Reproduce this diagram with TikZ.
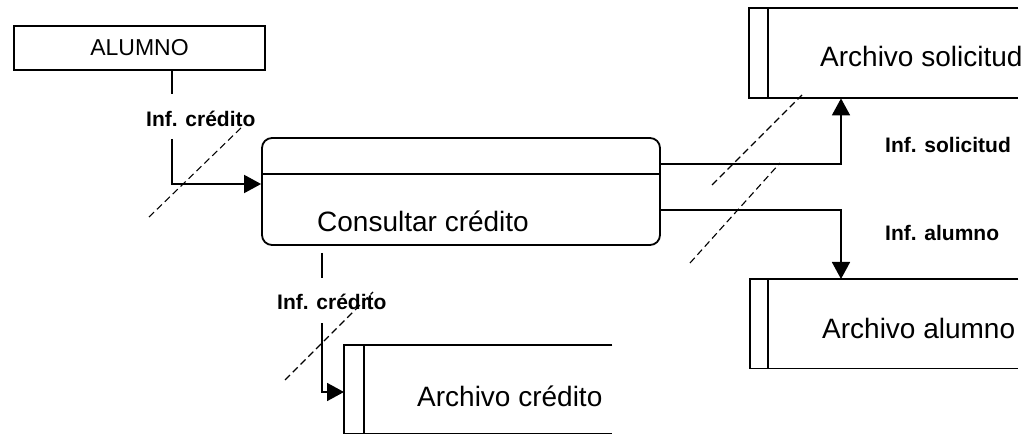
\documentclass[tikz,border=0pt]{standalone}
\usepackage{fontspec}
\setmainfont{Liberation Sans}
\usetikzlibrary{arrows.meta}
\begin{document}
\begin{tikzpicture}[x=1pt,y=-1pt,
  flow/.style={line width=1.8pt},
  tip/.style={-{Triangle[length=17pt,width=18pt]}},
  cut/.style={line width=1.1pt,dash pattern=on 7pt off 4pt},
  box/.style={draw,line width=1.8pt,inner sep=0pt},
  store/.style={inner sep=0pt},
  big/.style={inner sep=0pt,anchor=base west,font=\fontsize{28}{30}\selectfont},
  lbl/.style={inner sep=0pt,anchor=base west,font=\bfseries\fontsize{21}{24}\selectfont}]
\path[use as bounding box] (0,0) rectangle (1027,435);

% external entity
\node[box,minimum width=251pt,minimum height=44pt,font=\fontsize{23}{25}\selectfont]
  (alumno) at (139.5,48) {ALUMNO};

% process
\node[draw,line width=1.8pt,rounded corners=10pt,minimum width=398pt,minimum height=107pt,inner sep=0pt]
  (proc) at (461,191.5) {};
\coordinate (dv) at (0,174);
\draw[line width=1.8pt] (proc.west |- dv) -- (proc.east |- dv);
\node[big] (proctxt) at (317,231.7) {Consultar crédito};

% data stores (open on the right)
\node[store,minimum width=269pt,minimum height=90pt,anchor=north west] (sol) at (749,8) {};
\node[store,minimum width=268pt,minimum height=89pt,anchor=north west] (alu) at (750,279) {};
\node[store,minimum width=268pt,minimum height=88pt,anchor=north west] (cre) at (344,345) {};
\foreach \s/\w in {sol/19,alu/18,cre/20}{
  \draw[line width=1.8pt] (\s.north east) -- (\s.north west) -- (\s.south west) -- (\s.south east);
  \draw[line width=1.8pt] ([xshift=\w pt]\s.north west) -- ([xshift=\w pt]\s.south west);
}
\node[big] (soltxt) at (820,66.7) {Archivo solicitud};
\node[big] (alutxt) at (822,338) {Archivo alumno};
\node[big] (cretxt) at (417,406.7) {Archivo crédito};

% flow labels
\node[lbl] (l1) at (146,126.7) {Inf. crédito};
\node[lbl] (l2) at (277,309) {Inf. crédito};
\node[lbl] (l3) at (885,152.3) {Inf. solicitud};
\node[lbl] (l4) at (885,241) {Inf. alumno};

% bend points
\coordinate (a1) at (172,94);
\coordinate (a2) at (172,139);
\coordinate (a3) at (172,184);
\coordinate (b1) at (841,164);
\coordinate (b2) at (841,210);
\coordinate (c1) at (322,253);
\coordinate (c2) at (322,278);
\coordinate (c3) at (322,323);
\coordinate (c4) at (322,392);

% flows
\draw[flow] (alumno.south -| a1) -- (a1);
\draw[flow,tip] (a2) -- (a3) -- (proc.west |- a3);
\draw[flow,tip] (proc.east |- b1) -- (b1) -- (sol.south -| b1);
\draw[flow,tip] (proc.east |- b2) -- (b2) -- (alu.north -| b2);
\draw[flow] (c1) -- (c2);
\draw[flow,tip] (c3) -- (c4) -- (cre.west |- c4);

% cut marks
\coordinate (d1) at (149,217); \coordinate (d2) at (242,127);
\coordinate (e1) at (712,185); \coordinate (e2) at (802,95);
\coordinate (f1) at (690,263); \coordinate (f2) at (780,163);
\coordinate (g1) at (285,380); \coordinate (g2) at (373,292);
\draw[cut] (d1) -- (d2);
\draw[cut] (e1) -- (e2);
\draw[cut] (f1) -- (f2);
\draw[cut] (g1) -- (g2);
\end{tikzpicture}
\end{document}
